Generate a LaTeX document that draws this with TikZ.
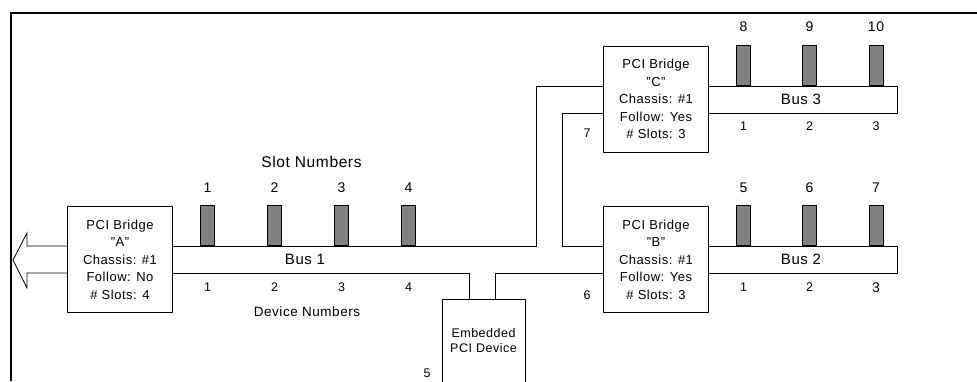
\documentclass[tikz,border=0pt]{standalone}
\usepackage{fontspec}
\setmainfont{Liberation Sans}[LetterSpace=4]
\begin{document}
\begin{tikzpicture}[x=1pt,y=-1pt,
  bridge/.style={draw=black,fill=white,line width=0.8pt,minimum width=105pt,minimum height=106pt,align=center,font=\fontsize{13}{17.5}\selectfont,inner sep=0pt},
  slot/.style={draw=black,fill=black!50,line width=0.8pt,minimum width=14pt,minimum height=40pt,inner sep=0pt},
  busline/.style={line width=0.8pt},
  buslbl/.style={font=\fontsize{15}{18}\selectfont},
  slotnum/.style={font=\fontsize{14}{16}\selectfont},
  devnum/.style={font=\fontsize{12.5}{14}\selectfont},
  sidenum/.style={font=\fontsize{12.5}{14}\selectfont},
  frame/.style={line width=2pt}]
\useasboundingbox (0,0) rectangle (977,381);
% frame
\draw[frame] (11,381) -- (11,12.5) -- (977,12.5);
% bridges
\node[bridge] (A) at (120,259.5) {PCI Bridge\\"A"\\Chassis: \#1\\Follow: No\\\# Slots: 4};
\node[bridge] (C) at (656,99) {PCI Bridge\\"C"\\Chassis: \#1\\Follow: Yes\\\# Slots: 3};
\node[bridge] (B) at (656,259.5) {PCI Bridge\\"B"\\Chassis: \#1\\Follow: Yes\\\# Slots: 3};
% embedded device (runs off the bottom)
\coordinate (E1) at (442,299);
\coordinate (E2) at (525,299);
\draw[busline] (442,390) -- (E1) -- (E2) -- (525,390);
\node[align=center,font=\fontsize{12.5}{15.5}\selectfont] (Etxt) at (483.5,340.5) {Embedded\\PCI Device};
% bus 1 outline
\coordinate (b1a) at (A.east |- 0,246);
\coordinate (b1b) at (A.east |- 0,273);
\draw[busline] (b1a) -- (536,246) -- (536,86) -- (C.west |- 0,86);
\draw[busline] (C.west |- 0,113) -- (562,113) -- (562,246) -- (B.west |- 0,246);
\draw[busline] (B.west |- 0,273) -- (495,273) -- (495,299);
\draw[busline] (469,299) -- (469,273) -- (b1b);
% output arrow
\draw[busline] (A.west |- 0,246) -- (27,246) -- (27,233) -- (13,260) -- (27,288) -- (27,273) -- (A.west |- 0,273);
% bus 2 and bus 3
\draw[busline] (B.east |- 0,246) -- (897,246) -- (897,273) -- (B.east |- 0,273);
\draw[busline] (C.east |- 0,86) -- (897,86) -- (897,113) -- (C.east |- 0,113);
\node[buslbl] (bus1) at (305,259.5) {Bus 1};
\node[buslbl] (bus2) at (801,259.5) {Bus 2};
\node[buslbl] (bus3) at (801,99.5) {Bus 3};
% slots bus 1
\foreach \x/\n in {207.5/1,274.5/2,341.5/3,408.5/4}{
  \node[slot,anchor=south] (s1\n) at (\x,246) {};
  \node[slotnum] at (\x,188) {\n};
}
\foreach \x/\n in {207.5/1,274.5/2,341.5/3,408.5/4}{
  \node[devnum] at (\x,287) {\n};
}
% slots bus 2
\foreach \x/\n/\d in {743.5/5/1,809.5/6/2,876/7/3}{
  \node[slot,anchor=south] (s2\d) at (\x,246) {};
  \node[slotnum] at (\x,188) {\n};
}
\node[devnum] at (743.5,287) {1};
\node[devnum] at (809.5,287) {2};
\node[slotnum] at (876,288) {3};
% slots bus 3
\foreach \x/\n/\d in {743.5/8/1,809.5/9/2,876/10/3}{
  \node[slot,anchor=south] (s3\d) at (\x,86) {};
  \node[slotnum] at (\x,27) {\n};
}
\node[devnum] at (743.5,126) {1};
\node[devnum] at (809.5,126) {2};
\node[devnum] at (876,126) {3};
% side labels
\node[sidenum] (n7) at (587,133) {7};
\node[sidenum] (n6) at (587,295) {6};
\node[sidenum] (n5) at (427,373) {5};
\node[font=\fontsize{15.5}{18}\selectfont] (slotcap) at (311.5,162) {Slot Numbers};
\node[font=\fontsize{13.5}{16}\selectfont] (devcap) at (307,312) {Device Numbers};
\end{tikzpicture}
\end{document}
